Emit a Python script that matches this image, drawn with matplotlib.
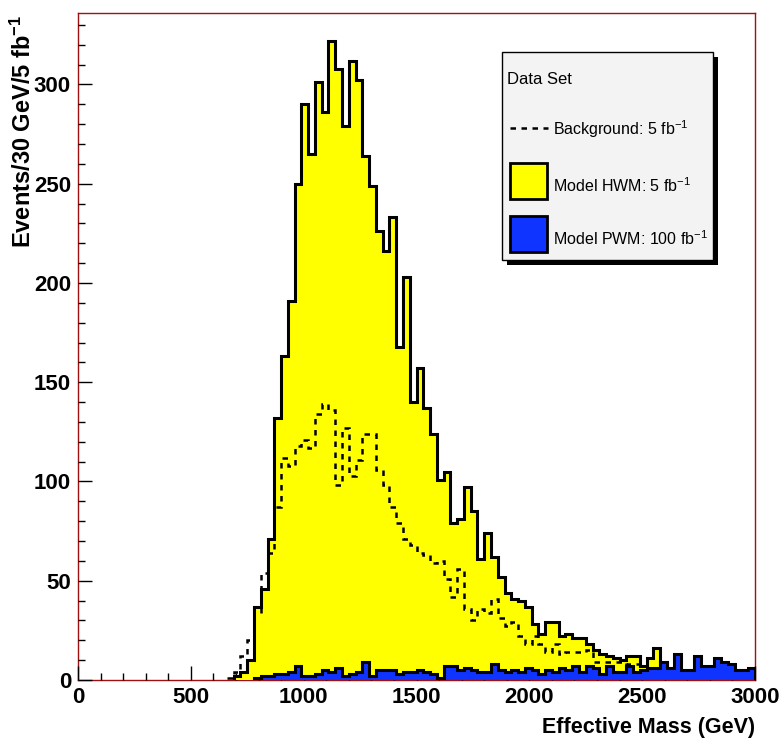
import numpy as np
import matplotlib
matplotlib.use('Agg')
import matplotlib.pyplot as plt
from matplotlib.patches import Rectangle
from matplotlib.ticker import MultipleLocator

plt.rcParams['font.family'] = ['Liberation Sans', 'DejaVu Sans']
plt.rcParams['mathtext.fontset'] = 'custom'
plt.rcParams['mathtext.rm'] = 'Liberation Sans'
plt.rcParams['mathtext.bf'] = 'Liberation Sans:bold'
plt.rcParams['mathtext.default'] = 'rm'

# 100 bins of 30 GeV, 0 - 3000 GeV
bin_edges = np.arange(0, 3001, 30)

# Model HWM, 5 fb-1 (yellow)
hwm = [0] * 23 + [
    2, 4, 10, 37, 46, 71, 132, 163, 191, 250,
    290, 265, 301, 286, 322, 308, 279, 312, 302, 264,
    249, 226, 216, 233, 168, 203, 140, 157, 137, 124,
    101, 105, 79, 81, 97, 85, 61, 74, 62, 52,
    44, 41, 40, 37, 28, 23, 29, 29, 22, 23,
    21, 21, 18, 15, 13, 12, 11, 10, 12, 12,
    7, 11, 16, 8, 5, 4, 3, 3, 2, 2,
    5, 6, 3, 3, 2, 2, 1]

# Model PWM, 100 fb-1 (blue)
pwm = [0] * 26 + [
    1, 2, 2, 3, 3, 4, 7, 2, 2, 3,
    5, 4, 6, 2, 3, 4, 9, 2, 5, 5,
    5, 3, 4, 4, 5, 4, 3, 1, 7, 7,
    5, 6, 5, 4, 4, 8, 5, 4, 5, 4,
    6, 5, 3, 5, 4, 6, 5, 7, 4, 7,
    6, 3, 7, 4, 4, 7, 4, 5, 6, 6,
    9, 6, 13, 5, 5, 12, 7, 7, 11, 9,
    8, 5, 5, 6]

# Background, 5 fb-1 (dashed)
bkg = [0] * 22 + [
    1, 4, 12, 20, 34, 54, 64, 87, 112, 108,
    118, 121, 117, 134, 139, 136, 98, 127, 103, 111,
    124, 124, 106, 98, 87, 79, 71, 68, 64, 63,
    59, 60, 51, 42, 56, 36, 30, 36, 34, 41,
    31, 27, 29, 22, 18, 22, 18, 14, 18, 13,
    14, 14, 14, 15, 9, 9, 9, 9, 9, 8,
    8, 5, 6, 6, 6, 4, 4, 3, 4, 3,
    4, 3, 4, 3, 3, 2, 3, 3]

legend_labels = ['Background: 5 fb$^{-1}$', 'Model HWM: 5 fb$^{-1}$',
                 'Model PWM: 100 fb$^{-1}$']
legend_title = 'Data Set'

W, H = 783, 747
fig = plt.figure(figsize=(W / 100, H / 100), dpi=100)
ax = fig.add_axes([78 / W, (H - 680) / H, 677 / W, 667 / H])

yellow = '#ffff00'
blue = '#1034ff'


def first_nonzero(vals):
    return next(i for i, v in enumerate(vals) if v != 0)


i0 = first_nonzero(hwm)
ax.stairs(hwm[i0:], bin_edges[i0:], fill=True, facecolor=yellow,
          edgecolor='none', zorder=2)
ax.stairs(hwm[i0:], bin_edges[i0:], baseline=0, color='black', lw=2.2, zorder=3)

i0 = first_nonzero(bkg)
ax.stairs(bkg[i0:], bin_edges[i0:], baseline=None, color='black', lw=1.8,
          linestyle=(0, (2.2, 2.2)), zorder=4)

i0 = first_nonzero(pwm)
ax.stairs(pwm[i0:], bin_edges[i0:], fill=True, facecolor=blue,
          edgecolor='none', zorder=5)
ax.stairs(pwm[i0:], bin_edges[i0:], baseline=0, color='black', lw=2.2, zorder=6)

ax.set_xlim(0, 3000)
ax.set_ylim(0, 336)
ax.xaxis.set_major_locator(MultipleLocator(500))
ax.xaxis.set_minor_locator(MultipleLocator(100))
ax.yaxis.set_major_locator(MultipleLocator(50))
ax.yaxis.set_minor_locator(MultipleLocator(10))
ax.tick_params(which='major', direction='in', length=10, width=1, pad=5,
               labelsize=16)
ax.tick_params(which='minor', direction='in', length=5, width=1)
for lab in ax.get_xticklabels() + ax.get_yticklabels():
    lab.set_fontweight('bold')
for s in ax.spines.values():
    s.set_color('#a01010')
    s.set_linewidth(1)
    s.set_zorder(1)

# overlay in pixel coordinates for labels and legend
ov = fig.add_axes([0, 0, 1, 1])
ov.set_xlim(0, W)
ov.set_ylim(H, 0)
ov.axis('off')

ov.text(755, 727, 'Effective Mass (GeV)', ha='right', va='center',
        fontsize=15.5, fontweight='bold')
ov.text(23, 15, r'Events/30 GeV/5 fb$^{\mathbf{-1}}$', rotation=90,
        ha='center', va='top', fontsize=17, fontweight='bold')

# legend box with shadow
ov.add_patch(Rectangle((507, 57), 211, 208, facecolor='black', edgecolor='none'))
ov.add_patch(Rectangle((502, 52), 211, 208, facecolor='#f3f3f3',
                       edgecolor='black', lw=1))
ov.text(507, 80, legend_title, ha='left', va='center', fontsize=12)
ov.plot([510, 548], [128, 128], color='black', lw=1.8, linestyle=(0, (2.2, 2.2)))
ov.add_patch(Rectangle((510, 163), 37, 36, facecolor=yellow, edgecolor='black', lw=2))
ov.add_patch(Rectangle((510, 216), 37, 36, facecolor=blue, edgecolor='black', lw=2))
for y, lab in zip([129, 186, 239], legend_labels):
    ov.text(553, y, lab, ha='left', va='center', fontsize=11.5)

fig.savefig('out.png', dpi=100)
